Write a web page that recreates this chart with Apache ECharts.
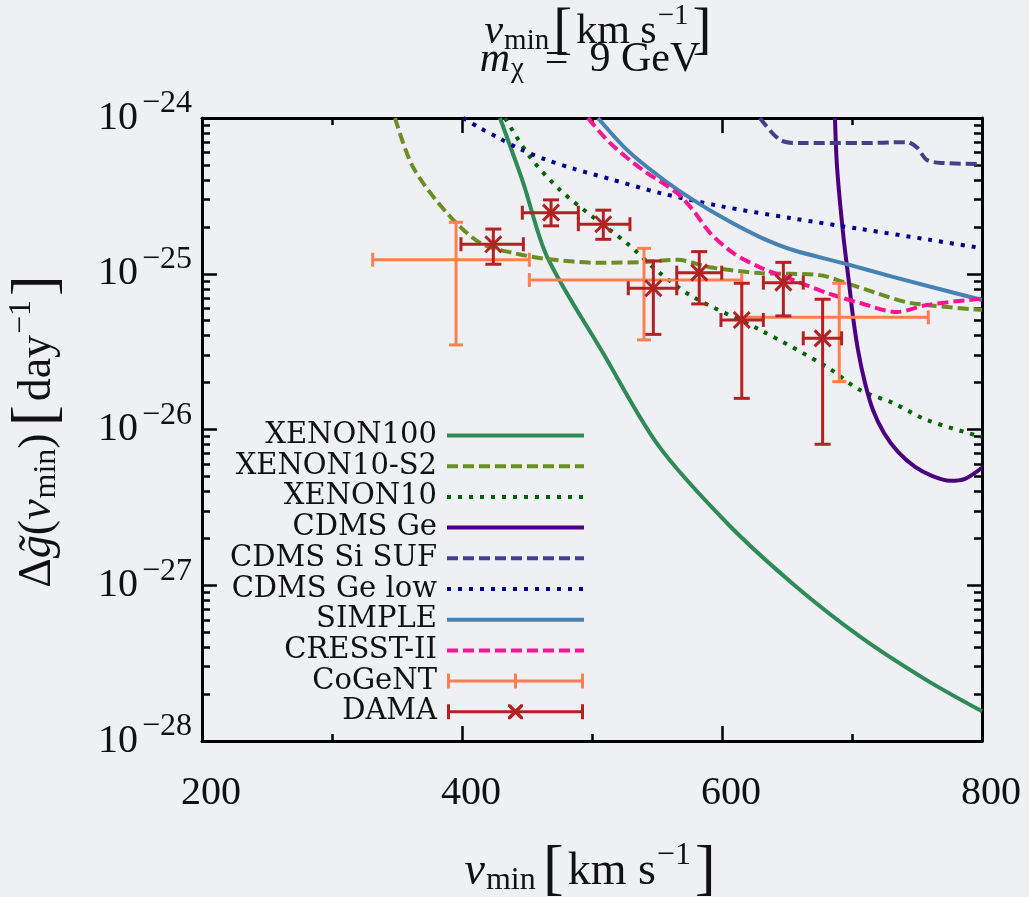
<!DOCTYPE html>
<html><head><meta charset="utf-8">
<script src="https://cdn.jsdelivr.net/npm/echarts@6/dist/echarts.min.js"></script>
<style>html,body{margin:0;padding:0;background:#eff0f3}#c{width:1029px;height:897px}</style>
</head><body><div id="c"></div><script>
// ---------- data ----------
const xTicks = [200, 400, 600, 800];
const yTickValues = [1e-28, 1e-27, 1e-26, 1e-25, 1e-24];
const minorMultipliers = [2, 3, 4, 5, 6, 7, 8, 9];

const xenon100V = [429.2, 447.2, 465.4, 508.5, 551, 603.8, 654.6, 706.2, 757.7, 800];
const xenon100G = [1e-24, 3.81e-25, 1.29e-25, 3.1e-26, 7.9e-27, 2.51e-27, 1.02e-27, 4.68e-28, 2.45e-28, 1.55e-28];

const xenon10s2V = [348.5, 362.3, 388.5, 413.8, 439.2, 465.4, 506.2, 539.2, 565.4, 590.8, 629.2, 675.4, 693.1, 719.2, 744.6, 800];
const xenon10s2G = [1e-24, 4.84e-25, 2.45e-25, 1.58e-25, 1.36e-25, 1.245e-25, 1.175e-25, 1.19e-25, 1.23e-25, 1.10e-25, 1.01e-25, 9.8e-26, 8.85e-26, 7.5e-26, 6.5e-26, 5.85e-26];

const xenon10V = [433.1, 452.3, 475.4, 500.8, 526.9, 552.3, 577.7, 629.2, 680.8, 706.2, 731.5, 757.7, 800];
const xenon10G = [1e-24, 5.62e-25, 3.45e-25, 2.31e-25, 1.57e-25, 1.01e-25, 7.1e-26, 4.36e-26, 2.52e-26, 1.79e-26, 1.48e-26, 1.15e-26, 8.95e-27];

const cdmsGeV = [686.9, 688.5, 693.1, 697.7, 700.8, 704.6, 710.0, 716.2, 724.6, 735.4, 748.5, 761.5, 775.4, 786.9, 800];
const cdmsGeG = [1e-24, 4.84e-25, 1.83e-25, 8.73e-26, 5.27e-26, 3.24e-26, 1.99e-26, 1.33e-26, 9.5e-27, 7.18e-27, 5.75e-27, 5.04e-27, 4.68e-27, 4.82e-27, 5.68e-27];

const cdmsSiV = [629.2, 644.6, 660, 706.2, 742.3, 750, 757.7, 770, 800];
const cdmsSiG = [1e-24, 7.23e-25, 6.9e-25, 6.9e-25, 7.0e-25, 6.46e-25, 5.37e-25, 5.14e-25, 5.07e-25];

const cdmsGeLowV = [400.8, 413.8, 426.9, 444.6, 465.4, 486.9, 513.8, 552.3, 598.5, 652.3, 706.2, 760.0, 800];
const cdmsGeLowG = [1e-24, 8.63e-25, 7.55e-25, 6.32e-25, 5.37e-25, 4.70e-25, 4.06e-25, 3.30e-25, 2.72e-25, 2.28e-25, 1.94e-25, 1.65e-25, 1.46e-25];

const simpleV = [504.6, 526.9, 552.3, 577.7, 603.8, 629.2, 654.6, 693.1, 731.5, 800];
const simpleG = [1e-24, 6.24e-25, 4.18e-25, 2.98e-25, 2.21e-25, 1.72e-25, 1.42e-25, 1.17e-25, 9.55e-26, 6.78e-26];

const cresstV = [496.9, 513.8, 539.2, 565.4, 577.7, 590.8, 608.5, 629.2, 654.6, 680.8, 706.2, 734.6, 757.7, 800];
const cresstG = [1e-24, 6.92e-25, 4.63e-25, 3.30e-25, 2.56e-25, 1.83e-25, 1.36e-25, 1.10e-25, 9.12e-26, 7.52e-26, 6.49e-26, 5.68e-26, 6.31e-26, 6.92e-26];

const cogentV = [395.4, 540.0, 690.2];
const cogentVlo = [331.3, 451.8, 615.2];
const cogentVhi = [451.8, 615.2, 758.7];
const cogentG = [1.23e-25, 9.12e-26, 5.25e-26];
const cogentGlo = [3.49e-26, 3.76e-26, 2.03e-26];
const cogentGhi = [2.14e-25, 1.456e-25, 8.69e-26];

const damaV = [424.1, 468.5, 508.7, 547.2, 582.5, 615.2, 647.2, 677.4];
const damaVlo = [399.2, 446.4, 489.5, 527.9, 565.2, 599.2, 631.8, 662.5];
const damaVhi = [447.2, 489.5, 529.2, 565.2, 599.8, 631.8, 662.5, 692.0];
const damaG = [1.546e-25, 2.467e-25, 2.08e-25, 8.07e-26, 1.016e-25, 5.05e-26, 8.77e-26, 3.85e-26];
const damaGlo = [1.151e-25, 2.03e-25, 1.664e-25, 4.08e-26, 6.4e-26, 1.585e-26, 5.36e-26, 8.04e-27];
const damaGhi = [1.936e-25, 2.98e-25, 2.56e-25, 1.208e-25, 1.387e-25, 8.69e-26, 1.183e-25, 6.86e-26];

const legendNames = ['XENON100', 'XENON10-S2', 'XENON10', 'CDMS Ge', 'CDMS Si SUF', 'CDMS Ge low', 'SIMPLE', 'CRESST-II', 'CoGeNT', 'DAMA'];

// ---------- helpers ----------
const FONT = 'Liberation Serif';
const TXT = '#111';
const lg = Math.log10;
const yMin = lg(yTickValues[0]), yMax = lg(yTickValues[yTickValues.length - 1]);
const minorY = [];
for (let i = 0; i < yTickValues.length - 1; i++) {
  minorMultipliers.forEach(k => minorY.push(lg(yTickValues[i] * k)));
}
const DASH = [11, 5];
const DOT = [4, 7];

function lineSeries(name, V, G, color, type) {
  return {
    type: 'line', name, xAxisIndex: 0, yAxisIndex: 0,
    data: V.map((v, i) => [v, lg(G[i])]),
    symbol: 'none', showSymbol: false, smooth: 0.3, clip: true,
    lineStyle: { color, width: 4, type: type || 'solid', cap: 'butt' },
    itemStyle: { color },
    emphasis: { disabled: true }, z: 3
  };
}

function errSeries(name, color, V, Vlo, Vhi, G, Glo, Ghi, capV, capH, marker) {
  return {
    type: 'custom', name, xAxisIndex: 0, yAxisIndex: 0, z: 5,
    itemStyle: { color },
    encode: { x: 0, y: 1 },
    data: V.map((v, i) => [v, lg(G[i]), Vlo[i], Vhi[i], lg(Glo[i]), lg(Ghi[i])]),
    renderItem(params, api) {
      const x = api.value(0), y = api.value(1);
      const c = api.coord([x, y]);
      const l = api.coord([api.value(2), y]), r = api.coord([api.value(3), y]);
      const b = api.coord([x, api.value(4)]), t = api.coord([x, api.value(5)]);
      const st = { stroke: color, lineWidth: 3, fill: null };
      const L = (x1, y1, x2, y2) => ({ type: 'line', shape: { x1, y1, x2, y2 }, style: st });
      const ch = [
        L(l[0], l[1], r[0], r[1]),
        L(b[0], b[1], t[0], t[1]),
        L(l[0], l[1] - capH, l[0], l[1] + capH),
        L(r[0], r[1] - capH, r[0], r[1] + capH),
        L(b[0] - capV, b[1], b[0] + capV, b[1]),
        L(t[0] - capV, t[1], t[0] + capV, t[1])
      ];
      if (marker) {
        const m = 8;
        ch.push(L(c[0] - m, c[1] - m, c[0] + m, c[1] + m), L(c[0] - m, c[1] + m, c[0] + m, c[1] - m));
      }
      return { type: 'group', children: ch };
    }
  };
}

const tickLine = { color: '#000', width: 2.5 };
const axisLine = { show: true, onZero: false, lineStyle: { color: '#000', width: 3 } };

function makeRich(size) {
  const s = size, ss = Math.round(size * 0.7);
  return {
    it: { fontFamily: FONT, fontStyle: 'italic', fontWeight: 'normal', fontSize: s, color: TXT, lineHeight: 64 },
    rm: { fontFamily: FONT, fontWeight: 'normal', fontSize: s, color: TXT, lineHeight: 64 },
    sub: { fontFamily: FONT, fontWeight: 'normal', fontSize: ss, color: TXT, lineHeight: 64, padding: [18, 0, 0, 1] },
    sup: { fontFamily: FONT, fontWeight: 'normal', fontSize: ss, color: TXT, lineHeight: 64, padding: [0, 0, 32, 1] },
    br: { fontFamily: FONT, fontWeight: 'normal', fontSize: Math.round(s * 1.35), color: TXT, lineHeight: 64, padding: [0, 4, 0, 4] }
  };
}
const richAxis = makeRich(46);
const richTitle = makeRich(42);

const cogentIcon = 'path://M0 0H3V15H0Z M67 0H70V15H67Z M134 0H137V15H134Z M0 6H137V9H0Z';
const damaIcon = 'path://M0 0H3V15H0Z M134 0H137V15H134Z M0 6H137V9H0Z M61 0L63.5 0L76 12.5L76 15L73.5 15L61 2.5Z M73.5 0L76 0L76 2.5L63.5 15L61 15L61 12.5Z';

const chart = echarts.init(document.getElementById('c'), null, { renderer: 'canvas' });
chart.setOption({
  backgroundColor: '#eff0f3',
  animation: false,
  title: [
    { text: '{it|v}{sub|min}{br|[}{rm|km s}{sup|−1}{br|]}', left: 600, top: 0, textAlign: 'center', textVerticalAlign: 'top', padding: 0,
      textStyle: { fontWeight: 'normal', rich: richTitle } },
    { text: '{it|m}{sub|χ}{rm|  =  9 GeV}', left: 590, top: 28, textAlign: 'center', textVerticalAlign: 'top', padding: 0,
      textStyle: { fontWeight: 'normal', rich: richTitle } }
  ],
  grid: { left: 202, right: 47, top: 118, bottom: 156, containLabel: false, outerBoundsMode: 'none' },
  xAxis: [
    {
      type: 'value', position: 'bottom', min: xTicks[0], max: xTicks[xTicks.length - 1], interval: 200,
      axisLine, splitLine: { show: false },
      axisTick: { show: true, inside: true, length: 15, lineStyle: tickLine },
      minorTick: { show: true, splitNumber: 2, length: 7, lineStyle: tickLine },
      minorSplitLine: { show: false },
      axisLabel: { margin: 32, fontFamily: FONT, fontSize: 40, lineHeight: 40, color: TXT, padding: [0, 0, 0, 18], showMinLabel: true, showMaxLabel: true },
      name: '{it|v}{sub|min} {br|[}{rm|km s}{sup|−1}{br|]}', nameLocation: 'middle', nameGap: 99,
      nameTextStyle: { rich: richAxis }
    },
    {
      type: 'value', position: 'top', min: xTicks[0], max: xTicks[xTicks.length - 1], interval: 200,
      axisLine, splitLine: { show: false },
      axisTick: { show: true, inside: true, length: 15, lineStyle: tickLine },
      minorTick: { show: true, splitNumber: 2, length: 7, lineStyle: tickLine },
      axisLabel: { show: false }
    }
  ],
  yAxis: [
    {
      type: 'value', position: 'left', min: yMin, max: yMax, interval: 1,
      axisLine, splitLine: { show: false },
      axisTick: { show: true, inside: true, length: 15, lineStyle: tickLine },
      axisLabel: {
        margin: 10, color: TXT,
        formatter: v => '{b|10}{s|−' + Math.round(Math.abs(v)) + '}',
        rich: {
          b: { fontFamily: FONT, fontSize: 40, lineHeight: 40, color: TXT },
          s: { fontFamily: FONT, fontSize: 32, lineHeight: 40, color: TXT, padding: [0, 0, 28, 4] }
        }
      },
      name: '{rm|Δ}{it|g\u0303}{rm|(}{it|v}{sub|min}{rm|)} {br|[}{rm|day}{sup|−1}{br|]}',
      nameLocation: 'middle', nameGap: 132, nameRotate: 90,
      nameTextStyle: { rich: richAxis }
    },
    {
      type: 'value', position: 'left', min: yMin, max: yMax,
      axisLine: { show: false }, splitLine: { show: false },
      axisTick: { show: true, inside: true, length: 8, lineStyle: tickLine, customValues: minorY },
      axisLabel: { show: false }
    },
    {
      type: 'value', position: 'right', min: yMin, max: yMax, interval: 1,
      axisLine, splitLine: { show: false },
      axisTick: { show: true, inside: true, length: 15, lineStyle: tickLine },
      axisLabel: { show: false }
    },
    {
      type: 'value', position: 'right', min: yMin, max: yMax,
      axisLine: { show: false }, splitLine: { show: false },
      axisTick: { show: true, inside: true, length: 8, lineStyle: tickLine, customValues: minorY },
      axisLabel: { show: false }
    }
  ],
  legend: {
    orient: 'vertical', align: 'right', right: 443, top: 421, padding: 0,
    itemWidth: 137, itemHeight: 15, itemGap: 1.7, selectedMode: false,
    textStyle: { fontFamily: 'DejaVu Serif', fontSize: 29, lineHeight: 24, color: TXT, padding: [0, 5, 0, 0] },
    itemStyle: { opacity: 0 },
    lineStyle: { width: 4 },
    data: [
      legendNames[0], legendNames[1], legendNames[2], legendNames[3], legendNames[4],
      legendNames[5], legendNames[6], legendNames[7],
      { name: legendNames[8], icon: cogentIcon, itemStyle: { opacity: 1 } },
      { name: legendNames[9], icon: damaIcon, itemStyle: { opacity: 1 } }
    ]
  },
  series: [
    lineSeries(legendNames[0], xenon100V, xenon100G, '#2e8b57'),
    lineSeries(legendNames[1], xenon10s2V, xenon10s2G, '#6b8e23', DASH),
    lineSeries(legendNames[2], xenon10V, xenon10G, '#006400', DOT),
    lineSeries(legendNames[3], cdmsGeV, cdmsGeG, '#4b0082'),
    lineSeries(legendNames[4], cdmsSiV, cdmsSiG, '#483d8b', DASH),
    lineSeries(legendNames[5], cdmsGeLowV, cdmsGeLowG, '#00008b', DOT),
    lineSeries(legendNames[6], simpleV, simpleG, '#4682b4'),
    lineSeries(legendNames[7], cresstV, cresstG, '#ff1493', DASH),
    errSeries(legendNames[8], '#ff7f50', cogentV, cogentVlo, cogentVhi, cogentG, cogentGlo, cogentGhi, 7, 7, false),
    errSeries(legendNames[9], '#b22222', damaV, damaVlo, damaVhi, damaG, damaGlo, damaGhi, 8, 7, true)
  ]
});
</script></body></html>
